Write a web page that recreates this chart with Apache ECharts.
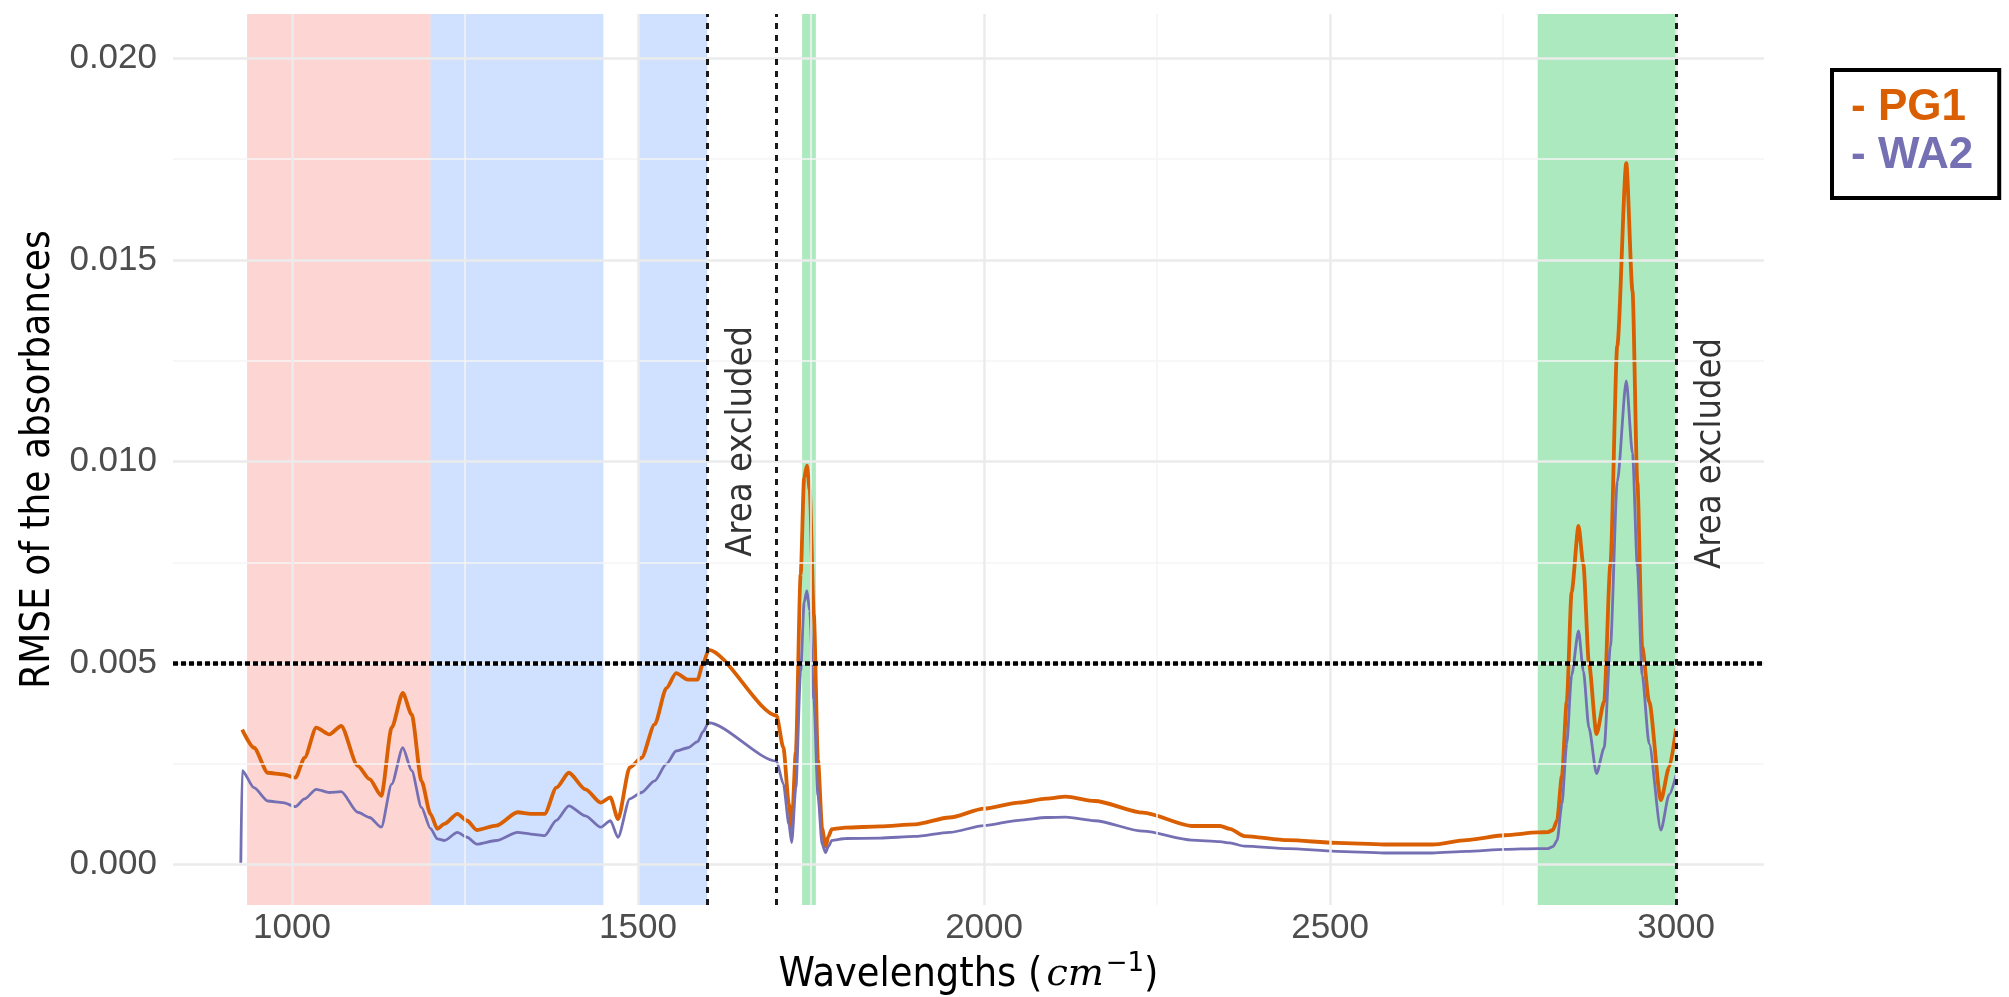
<!DOCTYPE html>
<html><head><meta charset="utf-8">
<script src="https://cdn.jsdelivr.net/npm/echarts@6/dist/echarts.min.js"></script>
<style>html,body{margin:0;padding:0;background:#fff}#c{width:2009px;height:997px}</style>
</head><body><div id="c"></div>
<script>
// ---- data ----
const wavelengths = [926, 928, 945, 965, 987, 1005, 1018, 1035, 1054, 1071, 1095, 1112, 1129, 1144, 1160, 1173, 1187, 1200, 1210, 1220, 1239, 1253, 1267, 1295, 1326, 1345, 1365, 1382, 1400, 1424, 1446, 1460, 1471, 1488, 1505, 1524, 1541, 1555, 1572, 1586, 1594, 1602, 1700, 1710, 1718, 1722, 1728, 1735, 1740, 1744, 1748, 1754, 1760, 1766, 1771, 1775, 1780, 1800, 1850, 1900, 1950, 2000, 2050, 2090, 2118, 2160, 2230, 2300, 2341, 2355, 2376, 2439, 2509, 2578, 2648, 2697, 2753, 2800, 2815, 2822, 2828, 2835, 2842, 2849, 2859, 2866, 2874, 2885, 2896, 2905, 2915, 2928, 2937, 2944, 2951, 2961, 2978, 2990, 3000];
const pg1 = [null, 0.00335, 0.0029, 0.00228, 0.00224, 0.00216, 0.00265, 0.0034, 0.00323, 0.00344, 0.00245, 0.00212, 0.00171, 0.0034, 0.00426, 0.00372, 0.00208, 0.00126, 0.00089, 0.00101, 0.00126, 0.00109, 0.00086, 0.00097, 0.0013, 0.00126, 0.00126, 0.00191, 0.00228, 0.00187, 0.00154, 0.00167, 0.00113, 0.00241, 0.00265, 0.00348, 0.00438, 0.00475, 0.00459, 0.00459, 0.005, 0.00533, 0.0037, 0.0029, 0.0015, 0.0009, 0.0028, 0.0072, 0.0096, 0.0099, 0.0093, 0.0062, 0.0026, 0.0009, 0.00045, 0.0007, 0.00088, 0.00092, 0.00095, 0.001, 0.00117, 0.00139, 0.00154, 0.00164, 0.00169, 0.00158, 0.00129, 0.00096, 0.00096, 0.00089, 0.00071, 0.00061, 0.00054, 0.0005, 0.0005, 0.00061, 0.00073, 0.0008, 0.00081, 0.00086, 0.0011, 0.0022, 0.00405, 0.00676, 0.0084, 0.00744, 0.005, 0.00324, 0.00405, 0.00744, 0.01287, 0.0174, 0.01423, 0.00948, 0.0054, 0.00405, 0.0016, 0.00242, 0.00337];
const wa2 = [0.00005, 0.00233, 0.00191, 0.00158, 0.00154, 0.00144, 0.00163, 0.00187, 0.00179, 0.00181, 0.0013, 0.00117, 0.00093, 0.002, 0.0029, 0.00233, 0.00142, 0.0009, 0.00064, 0.0006, 0.0008, 0.00068, 0.00051, 0.0006, 0.0008, 0.00076, 0.00072, 0.0011, 0.00146, 0.00121, 0.00093, 0.00109, 0.00068, 0.00163, 0.00179, 0.00208, 0.0025, 0.00282, 0.0029, 0.00305, 0.0033, 0.00352, 0.00257, 0.002, 0.001, 0.00055, 0.0019, 0.0048, 0.0065, 0.0068, 0.0063, 0.0041, 0.0017, 0.0005, 0.0003, 0.00045, 0.0006, 0.00065, 0.00066, 0.0007, 0.0008, 0.00097, 0.0011, 0.00117, 0.00118, 0.00109, 0.00083, 0.00061, 0.00057, 0.00054, 0.00046, 0.0004, 0.00033, 0.00029, 0.00029, 0.00033, 0.00038, 0.0004, 0.0004, 0.00045, 0.0006, 0.0015, 0.003, 0.0047, 0.0058, 0.0048, 0.0034, 0.00226, 0.0029, 0.0054, 0.0095, 0.012, 0.0102, 0.0074, 0.0047, 0.003, 0.00086, 0.00174, 0.00222];
const seriesNames = ['PG1', 'WA2'];
const xTicks = [1000, 1500, 2000, 2500, 3000];
const xMinorTicks = [1250, 1750, 2250, 2750];
const yTicks = [0, 0.005, 0.010, 0.015, 0.020];
const yMinorTicks = [0.0025, 0.0075, 0.0125, 0.0175];
const threshold = 0.005;
const cutLines = [1600, 1700, 3000];
const bandsRed = [[935, 1200]];
const bandsBlue = [[1200, 1450], [1500, 1600]];
const bandsGreen = [[1737, 1757], [2800, 3000]];
const annotations = [[1650, 0.0105, 'Area excluded'], [3050, 0.0102, 'Area excluded']];

// ---- styles ----
const COL_PG1 = '#D95F02', COL_WA2 = '#7570B3';
const NARROW = "'Liberation Sans Narrow', 'DejaVu Sans Condensed', sans-serif";
const SANS = "'Liberation Sans', Arial, sans-serif";

const toPairs = ys => wavelengths.map((x, i) => [x, ys[i]]);
const band = (arr, color) => arr.map(([a, b]) => [{ xAxis: a, itemStyle: { color } }, { xAxis: b }]);

const chart = echarts.init(document.getElementById('c'), null, { renderer: 'canvas' });
chart.setOption({
  animation: false,
  backgroundColor: '#ffffff',
  grid: { left: 173, right: 245, top: 14, bottom: 92, containLabel: false, outerBoundsMode: 'none' },
  legend: {
    left: 1832, top: 70, orient: 'vertical', itemWidth: 0, itemHeight: 0, itemGap: 0,
    padding: [14, 26, 18, 13], borderColor: '#000', borderWidth: 4, backgroundColor: '#fff',
    selectedMode: false, formatter: '- {name}',
    textStyle: { fontSize: 44, fontWeight: 'bold', fontFamily: SANS, lineHeight: 48 },
    data: [
      { name: seriesNames[0], textStyle: { color: COL_PG1 } },
      { name: seriesNames[1], textStyle: { color: COL_WA2 } }
    ]
  },
  xAxis: {
    type: 'value', min: 828, max: 3127,
    axisLine: { show: false }, axisTick: { show: false }, splitLine: { show: false },
    axisLabel: { customValues: xTicks, formatter: v => String(v), color: '#4d4d4d', fontSize: 35, fontFamily: SANS, margin: 6 },
    name: '{t|Wavelengths (}{m|cm}{s|−1}{t|)}',
    nameLocation: 'middle', nameGap: 45,
    nameTextStyle: {
      rich: {
        t: { fontSize: 41, fontFamily: NARROW, color: '#000', lineHeight: 48 },
        m: { fontSize: 38, fontFamily: "'DejaVu Serif', serif", fontStyle: 'italic', color: '#000', lineHeight: 48, padding: [0, 2, 0, 4] },
        s: { fontSize: 26, fontFamily: "'DejaVu Sans', sans-serif", color: '#000', verticalAlign: 'top', lineHeight: 28 }
      }
    }
  },
  yAxis: {
    type: 'value', min: -0.001, max: 0.0211,
    axisLine: { show: false }, axisTick: { show: false }, splitLine: { show: false },
    axisLabel: { customValues: yTicks, formatter: v => v.toFixed(3), color: '#4d4d4d', fontSize: 35, fontFamily: SANS, margin: 16 },
    name: 'RMSE of the absorbances', nameLocation: 'middle', nameGap: 108, nameRotate: 90,
    nameTextStyle: { fontSize: 40, fontFamily: NARROW, color: '#000' }
  },
  series: [
    {
      type: 'line', data: [], silent: true, z: 1,
      markLine: {
        silent: true, precision: 8, symbol: ['none', 'none'], label: { show: false }, animation: false,
        data: [
          ...xMinorTicks.map(v => ({ xAxis: v, lineStyle: { color: '#f4f4f4', width: 1.5, type: 'solid' } })),
          ...yMinorTicks.map(v => ({ yAxis: v, lineStyle: { color: '#f4f4f4', width: 1.5, type: 'solid' } })),
          ...xTicks.map(v => ({ xAxis: v, lineStyle: { color: '#ebebeb', width: 2.5, type: 'solid' } })),
          ...yTicks.map(v => ({ yAxis: v, lineStyle: { color: '#ebebeb', width: 2.5, type: 'solid' } }))
        ]
      }
    },
    {
      type: 'line', data: [], silent: true, z: 2,
      markArea: {
        silent: true,
        data: [
          ...band(bandsRed, 'rgba(248,118,109,0.3)'),
          ...band(bandsBlue, 'rgba(97,156,255,0.3)'),
          ...band(bandsGreen, 'rgba(0,186,56,0.32)')
        ]
      }
    },
    {
      name: seriesNames[0], type: 'line', data: toPairs(pg1), z: 3,
      showSymbol: false, smooth: 0.25, smoothMonotone: 'x', connectNulls: false,
      lineStyle: { color: COL_PG1, width: 3.8 }, itemStyle: { color: COL_PG1 }
    },
    {
      name: seriesNames[1], type: 'line', data: toPairs(wa2), z: 4,
      showSymbol: false, smooth: 0.25, smoothMonotone: 'x',
      lineStyle: { color: COL_WA2, width: 2.8 }, itemStyle: { color: COL_WA2 }
    },
    {
      type: 'line', data: [], silent: true, z: 5,
      markLine: {
        silent: true, precision: 8, symbol: ['none', 'none'], label: { show: false }, animation: false,
        data: [
          ...cutLines.map(v => ({ xAxis: v, lineStyle: { color: '#1a1a1a', width: 3, type: [6, 6] } })),
          { yAxis: threshold, lineStyle: { color: '#000', width: 4.5, type: [5, 3] } }
        ]
      }
    },
    {
      type: 'scatter', data: annotations, z: 6, silent: true,
      symbolSize: 1, itemStyle: { color: 'rgba(0,0,0,0)' },
      label: {
        show: true, position: 'inside', rotate: 90, formatter: p => p.data[2],
        fontSize: 36, fontFamily: NARROW, color: '#000'
      }
    }
  ]
});
</script>
</body></html>
